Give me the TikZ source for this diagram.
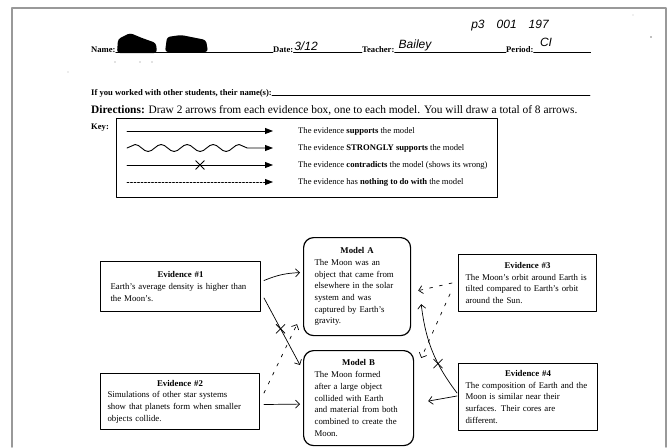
\documentclass[tikz,border=0pt]{standalone}
\usepackage{fontspec}
\setmainfont{Liberation Serif}
\newfontfamily\handfont{Liberation Sans}
\usetikzlibrary{arrows.meta,decorations.pathmorphing,shapes.misc,positioning}

\begin{document}
\begin{tikzpicture}[x=1pt, y=-1pt, >=stealth, line join=round, line cap=round,
    hdr/.style={anchor=base west, inner sep=0pt, font=\bfseries\fontsize{8.6}{9}\selectfont},
    hand/.style={inner sep=0pt, font=\handfont\itshape\fontsize{12}{12}\selectfont},
    evbox/.style={draw, line width=1pt, anchor=north west, inner xsep=7pt, inner ysep=0pt, align=left,
      font=\fontsize{8.8}{11.7}\selectfont},
    modelbox/.style={evbox, inner xsep=11pt, rounded corners=10pt, line width=1.2pt},
    keytext/.style={anchor=west, inner sep=0pt, font=\fontsize{8.6}{9}\selectfont},
    keyarrow/.style={line width=0.9pt, -{Triangle[length=8pt,width=6pt]}},
    pen/.style={line width=0.7pt, -{Straight Barb[length=4pt,width=8pt]}},
    penhint/.style={pen, dash pattern=on 3pt off 7pt},
    xmark/.style={cross out, draw, line width=0.8pt, minimum size=8pt, inner sep=0pt}]
  \useasboundingbox (0,0) rectangle (668,447);
  \draw[gray!80, line width=1.6pt] (12,447) -- (12,8) -- (666,8) -- (666,447);

  % header
  \node[hdr] (namelbl) at (91,52) {Name:};
  \node[hdr] (datelbl) at (273,52) {Date:};
  \node[hdr] (teachlbl) at (362,52) {Teacher:};
  \node[hdr] (perlbl) at (506,52) {Period:};
  \draw[line width=0.6pt] (namelbl.base east) -- (datelbl.base west);
  \draw[line width=0.6pt] (datelbl.base east) -- (teachlbl.base west);
  \draw[line width=0.6pt] (teachlbl.base east) -- (perlbl.base west);
  \draw[line width=0.6pt] (perlbl.base east) -- ++(57,0);
  \fill[rounded corners=3pt] (117,53) -- (118,39) -- (130,33) -- (142,38) -- (156,43) -- (157,53) -- cycle;
  \fill[rounded corners=3pt] (165,52) -- (167,37) -- (181,35) -- (206,40) -- (208,52) -- cycle;
  \node[hand] (date) at (306,46) {3/12};
  \node[hand] (teacher) at (415,45) {Bailey};
  \node[hand] (period) at (546,42) {CI};
  \node[hand] (codes) at (510,26) {p3\quad 001\quad 197};

  \node[hdr] (worklbl) at (91,95) {If you worked with other students, their name(s):};
  \draw[line width=0.6pt] (worklbl.base east) -- ++(318,0);
  \node[hdr, font=\fontsize{11.4}{12}\selectfont] (dirlbl) at (91,113) {\textbf{Directions:} Draw 2 arrows from each evidence box, one to each model. You will draw a total of 8 arrows.};

  % key
  \node[hdr] (keylbl) at (91,129) {Key:};
  \draw[line width=1pt] (116,118) rectangle (497,197);
  \node[keytext] (k1) at (298,131) {The evidence \textbf{supports} the model};
  \node[keytext] (k2) at (298,148) {The evidence \textbf{STRONGLY supports} the model};
  \node[keytext] (k3) at (298,165) {The evidence \textbf{contradicts} the model (shows its wrong)};
  \node[keytext] (k4) at (298,182) {The evidence has \textbf{nothing to do with} the model};
  \draw[keyarrow] ([xshift=-171pt]k1.west) -- ([xshift=-25pt]k1.west);
  \draw[keyarrow, decorate, decoration={snake, amplitude=3.5pt, segment length=26pt, post length=14pt}]
    ([xshift=-171pt]k2.west) -- ([xshift=-25pt]k2.west);
  \draw[keyarrow] ([xshift=-171pt]k3.west) -- node[xmark, pos=0.5] {} ([xshift=-25pt]k3.west);
  \draw[keyarrow, dash pattern=on 2pt off 1.5pt] ([xshift=-171pt]k4.west) -- ([xshift=-25pt]k4.west);

  % evidence and models
  \node[evbox, inner xsep=10pt, minimum width=160pt, minimum height=50pt, text width=140pt] (ev1) at (100,261)
    {{\centering\textbf{Evidence \#1}\par}Earth's average density is higher than\\the Moon's.};
  \node[modelbox, minimum width=107pt, minimum height=98pt, text width=85pt] (modA) at (303,237)
    {{\centering\textbf{Model A}\par}The Moon was an\\object that came from\\elsewhere in the solar\\system and was\\captured by Earth's\\gravity.};
  \node[evbox, minimum width=138pt, minimum height=57pt, text width=124pt] (ev3) at (458,254)
    {{\centering\textbf{Evidence \#3}\par}The Moon's orbit around Earth is\\tilted compared to Earth's orbit\\around the Sun.};
  \node[modelbox, minimum width=110pt, minimum height=95pt, text width=88pt] (modB) at (303,350)
    {{\centering\textbf{Model B}\par}The Moon formed\\after a large object\\collided with Earth\\and material from both\\combined to create the\\Moon.};
  \node[evbox, minimum width=159pt, minimum height=56pt, text width=145pt] (ev2) at (100,373)
    {{\centering\textbf{Evidence \#2}\par}Simulations of other star systems\\show that planets form when smaller\\objects collide.};
  \node[evbox, minimum width=139pt, minimum height=67pt, text width=125pt] (ev4) at (458,363)
    {{\centering\textbf{Evidence \#4}\par}The composition of Earth and the\\Moon is similar near their\\surfaces. Their cores are\\different.};

  % student arrows
  \draw[pen] ([xshift=3pt,yshift=6pt]ev1.east) to[bend left=10] ([xshift=-3pt,yshift=14pt]modA.west);
  \draw[pen] ([xshift=3pt,yshift=14pt]ev1.south east) -- node[xmark, pos=0.46] {}
    ([xshift=-3pt,yshift=-15pt]modB.north west);
  \draw[penhint] ([xshift=4pt,yshift=-20pt]ev2.north east) -- ([xshift=-6pt,yshift=12pt]modA.south west);
  \draw[pen] ([xshift=4pt,yshift=-3pt]ev2.east) -- ([xshift=-3pt,yshift=-6pt]modB.west);
  \draw[penhint] ([xshift=-6pt]ev3.west) -- ([xshift=7pt,yshift=-4pt]modA.east);
  \draw[penhint] ([xshift=-8pt,yshift=18pt]ev3.south west) -- ([xshift=7pt,yshift=-8pt]modB.north east);
  \draw[pen] ([xshift=-1pt,yshift=4pt]ev4.west) to[bend left=15] node[xmark, pos=0.35] {}
    ([xshift=10pt,yshift=32pt]modA.south east);
  \draw[pen] ([xshift=-1pt,yshift=1pt]ev4.west) -- ([xshift=14pt,yshift=-3pt]modB.east);

  % specks
  \fill[gray] (651,37) circle (0.9);
  \fill[gray!50] (633,15) circle (0.7);
  \fill[gray!60] (68,72) circle (0.6);
  \foreach \sx in {115,140,152} \fill[gray] (\sx,62) circle (0.6);
\end{tikzpicture}
\end{document}
